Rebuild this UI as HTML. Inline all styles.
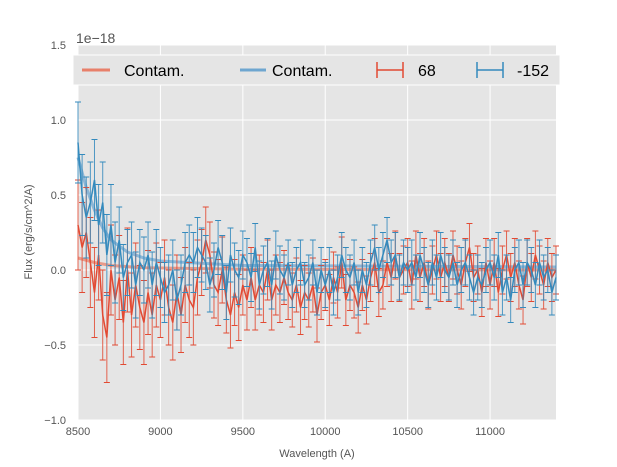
<!DOCTYPE html>
<html><head><meta charset="utf-8"><style>
html,body{margin:0;padding:0;background:#fff;}
svg{display:block;font-family:"Liberation Sans",sans-serif;}
</style></head><body>
<svg id="chart" width="617" height="467">
<rect x="78" y="45" width="478" height="375" fill="#E5E5E5"/>
<g id="grid"></g>
<g id="marks"></g>
<g id="axes"></g>
<text x="76" y="43" font-size="14" fill="#555">1e−18</text>
<text x="317" y="457" font-size="11" fill="#555" text-anchor="middle">Wavelength (A)</text>
<text transform="translate(32,232) rotate(-90)" font-size="11" fill="#555" text-anchor="middle">Flux (erg/s/cm^2/A)</text>
<g>
<rect x="73" y="55" width="487" height="30" fill="#E5E5E5" stroke="#fff" stroke-width="1"/>
<g><line x1="82" y1="70" x2="110" y2="70" stroke="#E8806A" stroke-width="3"/><text x="124" y="76" font-size="16" fill="#000">Contam.</text></g>
<g><line x1="240" y1="70" x2="266" y2="70" stroke="#6EA6D0" stroke-width="3"/><text x="272" y="76" font-size="16" fill="#000">Contam.</text></g>
<g><line x1="377" y1="70" x2="403" y2="70" stroke="#E24A33" stroke-width="1.5"/><line x1="377" y1="62" x2="377" y2="78" stroke="#E24A33" stroke-width="1.5"/><line x1="403" y1="62" x2="403" y2="78" stroke="#E24A33" stroke-width="1.5"/><text x="418" y="76" font-size="16" fill="#000">68</text></g>
<g><line x1="477" y1="70" x2="503" y2="70" stroke="#348ABD" stroke-width="1.5"/><line x1="477" y1="62" x2="477" y2="78" stroke="#348ABD" stroke-width="1.5"/><line x1="503" y1="62" x2="503" y2="78" stroke="#348ABD" stroke-width="1.5"/><text x="517" y="76" font-size="16" fill="#000">-152</text></g>
</g>
</svg>
<script>
const xStart = 8500, xStep = 25;
const redFlux = [0.3,0.15,0.25,0.05,-0.15,0.1,-0.3,-0.45,0.0,-0.2,
-0.05,-0.35,0.0,-0.3,-0.1,-0.25,-0.35,-0.15,-0.3,-0.1,
-0.2,-0.05,-0.25,-0.35,-0.15,-0.3,-0.1,-0.2,-0.25,-0.05,
0.05,0.2,0.1,-0.1,-0.15,0.0,-0.2,-0.3,-0.15,-0.25,
-0.1,-0.2,-0.05,-0.2,-0.1,-0.15,0.0,-0.2,-0.1,-0.15,
-0.05,-0.15,-0.2,-0.1,-0.25,-0.15,-0.2,-0.1,-0.3,-0.15,
-0.1,-0.2,-0.05,-0.15,0.05,-0.2,-0.1,-0.15,-0.25,-0.1,
-0.2,-0.05,0.05,-0.15,-0.1,0.05,-0.05,0.1,-0.05,0.0,
0.05,-0.1,0.1,-0.05,0.05,-0.1,0.0,0.1,-0.05,0.05,
-0.05,0.1,0.0,-0.1,0.05,0.15,-0.05,0.0,-0.15,0.05,
-0.1,0.05,-0.15,0.0,0.1,-0.05,0.05,-0.1,-0.2,0.05,
-0.05,0.1,0.0,-0.1,0.05,-0.05,0.0];
const blueFlux = [0.85,0.5,0.35,0.45,0.6,0.3,0.45,0.1,0.3,0.05,
0.2,-0.05,0.05,0.1,-0.1,0.05,0.0,0.1,-0.1,0.05,
-0.05,-0.15,-0.1,0.0,-0.2,-0.1,0.05,0.1,0.05,0.15,
0.1,0.05,-0.1,0.0,0.15,0.05,-0.15,0.1,0.0,-0.05,
0.1,0.05,-0.05,0.15,-0.1,0.0,0.05,-0.1,0.1,0.0,
-0.05,0.05,-0.1,0.0,0.05,-0.1,-0.05,0.05,-0.15,0.0,
-0.1,0.0,-0.15,-0.05,0.1,0.0,-0.05,0.05,-0.15,0.0,
-0.1,0.05,0.15,0.0,0.1,0.2,0.05,0.1,-0.05,0.05,
0.0,0.05,-0.05,0.1,0.0,-0.1,0.05,-0.05,0.1,0.0,
-0.05,0.05,-0.1,0.0,0.05,-0.05,-0.15,-0.05,-0.1,0.0,
0.05,-0.05,0.1,-0.15,-0.05,-0.2,0.0,0.05,-0.1,0.05,
0.0,-0.1,0.05,-0.05,0.0,-0.15,-0.05];
const redErrByBlock = [0.3,0.28,0.25,0.22,0.2,0.18,0.17,0.16,0.16,0.16,0.16,0.16];
const blueErrByBlock = [0.27,0.22,0.2,0.18,0.16,0.15,0.15,0.15,0.15,0.15,0.15,0.15];
const redContamX = [8500,8600,8700,8900,9500,11400];
const redContamY = [0.08,0.05,0.03,0.015,0.005,0.0];
const blueContamX = [8500,8550,8600,8650,8700,8800,8900,9000,9500,11400];
const blueContamY = [0.75,0.55,0.4,0.28,0.2,0.12,0.08,0.06,0.03,0.02];
const xTicks = [8500,9000,9500,10000,10500,11000];
const yTicks = [-1.0,-0.5,0.0,0.5,1.0,1.5];
const yTickLabels = ["−1.0","−0.5","0.0","0.5","1.0","1.5"];

const X0=78,X1=556,Y0=420,Y1=45;
const xs = v => X0 + (v-8500)/(11400-8500)*(X1-X0);
const ys = v => Y0 - (v+1.0)/2.5*(Y0-Y1);
const NS="http://www.w3.org/2000/svg";
function mk(tag, attrs, parent){const e=document.createElementNS(NS,tag);for(const k in attrs)e.setAttribute(k,attrs[k]);parent.appendChild(e);return e;}
const grid=document.getElementById('grid'), marks=document.getElementById('marks'), axes=document.getElementById('axes');
xTicks.forEach(t=>{
  const g=mk('line',{x1:xs(t),x2:xs(t),y1:Y1,y2:Y0,stroke:'#fff','stroke-width':1},grid);
  
  
  const tx=mk('text',{x:xs(t),y:Y0+15,'font-size':11,fill:'#555','text-anchor':'middle'},axes);
  tx.textContent=t;
  
  
});
yTicks.forEach((t,i)=>{
  const g=mk('line',{x1:X0,x2:X1,y1:ys(t),y2:ys(t),stroke:'#fff','stroke-width':1},grid);
  
  
  const tx=mk('text',{x:X0-12,y:ys(t)+4,'font-size':11,fill:'#555','text-anchor':'end'},axes);
  tx.textContent=yTickLabels[i];
  
  
});
function contam(xa,ya,color,name){
  const p=mk('polyline',{points:xa.map((x,i)=>xs(x)+','+ys(ya[i])).join(' '),fill:'none',stroke:color,'stroke-width':3,'stroke-opacity':0.75},marks);
  
  
}
contam(redContamX,redContamY,'#E8806A','contam-line-68');
contam(blueContamX,blueContamY,'#6EA6D0','contam-line-152');
function series(vals,errs,color,name){
  const g=mk('g',{},marks);
  
  
  vals.forEach((v,i)=>{
    const x=xs(xStart+i*xStep), e=errs[Math.floor(i/10)];
    mk('line',{x1:x,x2:x,y1:ys(v-e),y2:ys(v+e),stroke:color,'stroke-width':1,'stroke-opacity':0.85},g);
    mk('line',{x1:x-3,x2:x+3,y1:ys(v-e),y2:ys(v-e),stroke:color,'stroke-width':1},g);
    mk('line',{x1:x-3,x2:x+3,y1:ys(v+e),y2:ys(v+e),stroke:color,'stroke-width':1},g);
  });
  mk('polyline',{points:vals.map((v,i)=>xs(xStart+i*xStep)+','+ys(v)).join(' '),fill:'none',stroke:color,'stroke-width':1.5},g);
}
series(redFlux,redErrByBlock,'#E24A33','series-68');
series(blueFlux,blueErrByBlock,'#348ABD','series-152');
</script>
</body></html>
